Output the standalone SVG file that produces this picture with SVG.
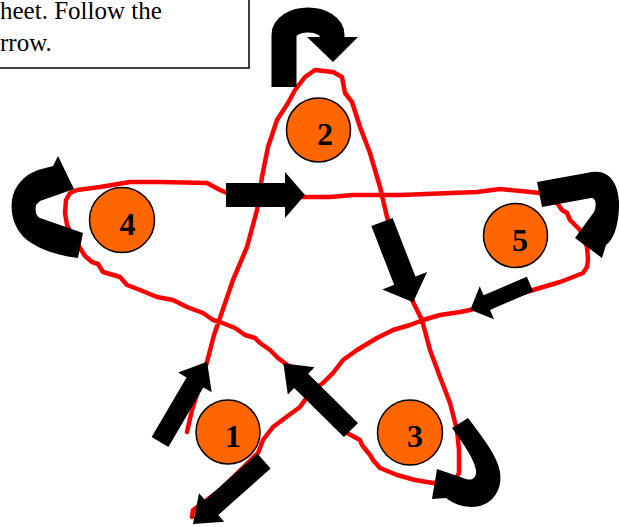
<svg xmlns="http://www.w3.org/2000/svg" width="619" height="527" viewBox="0 0 619 527">
<style>
.line{fill:none;stroke:#FF0000;stroke-width:4.5;stroke-linejoin:round;stroke-linecap:round}
.arr{fill:#000}
.band{fill:none;stroke:#000;stroke-width:25}
.node circle{fill:#FF6600;stroke:#000;stroke-width:1.5}
.node text{font-family:"Liberation Serif","Times New Roman",serif;font-weight:bold;font-size:32px;fill:#000;text-anchor:middle}
.note{font-family:"Liberation Serif","Times New Roman",serif;font-size:25px;fill:#000}
</style>
<rect width="619" height="527" fill="#fff"/>
<g id="note">
<rect x="-10" y="-10" width="259" height="78" fill="#fff" stroke="#000" stroke-width="1.5"/>
<text class="note" x="0" y="19">heet. Follow the</text>
<text class="note" x="0" y="51">rrow.</text>
</g>
<g id="connectors">
<polyline class="line" points="187,432 192,410 200,385 207,362 214,335 222,312 233,280 247,247 257,210 262,177 268,147 277,120 288,103 295,90 305,77 315,70 333,72 342,77 345,93 352,102 360,127 370,153 380,187 387,217 395,240 405,270 413,302 422,320 430,350 440,377 450,403 457,430 459,450 459,473 455,480 433,483 415,480 397,475 380,468 373,460 370,455 362,445 360,440 347,433 335,425 310,392 290,367 278,358 270,350 260,343 255,338 245,335 235,328 220,322 213,320 203,313 187,307 173,300 157,297 140,290 127,285 120,277 103,272 98,264 92,262 85,256 80,248 72,235 67,225 65,213 66,200 70,193 77,190 100,187 130,182 160,182 207,183 220,190 227,193 303,197 330,197 353,195 400,195 477,192 500,189 540,193 557,203 562,210 567,213 570,220 580,230 587,247 588,260 587,267 583,273 573,277 560,282 533,290 500,300 470,310 460,312 440,315 423,320 410,325 393,330 377,338 357,350 343,360 333,373 323,383 313,390 307,397 300,407 285,418 273,427 263,440 258,453 220,490 200,505 193,510 192,517"/>
<polygon class="arr" transform="translate(160,442) rotate(-59.6)" points="0,-9.7 69,-9.7 69,-19.5 93,0 69,19.5 69,9.7 0,9.7"/>
<polygon class="arr" transform="translate(351,430) rotate(-135.4)" points="0,-10 70,-10 70,-19 95,0 70,19 70,10 0,10"/>
<polygon class="arr" transform="translate(264,461) rotate(138.4)" points="0,-10 70,-10 70,-19 95,0 70,19 70,10 0,10"/>
<polygon class="arr" transform="translate(226,195)" points="0,-12 59,-12 59,-23 79,0 59,23 59,12 0,12"/>
<polygon class="arr" transform="translate(382,222) rotate(68.8)" points="0,-11.4 63,-11.4 63,-24 86,0 63,24 63,11.4 0,11.4"/>
<polygon class="arr" transform="translate(530,284) rotate(156.6)" points="0,-8 47,-8 47,-18 65,0 47,18 47,8 0,8"/>
<path class="band" d="M284,87 L284,35 A24,15 0 0 1 332,35 L332,38"/>
<polygon class="arr" points="307,37 358,37 333,62"/>
<path class="arr" d="M78,258 C60,256 40,250 27,240 C15,230 10,215 12,200 C14,186 24,175 38,170 L53,166 L58,156 L74,189 L40,201 L36,205 C35,212 36,216 40,218 L83,233 Z"/>
<path class="arr" d="M537,182 L592,172 C610,169 620,185 619,208 C618,228 613,240 606,245 L602,258 L575,238 L594,212 C597,205 596,198 591,198 L542,207 Z"/>
<path class="arr" d="M452,428 L468,418 C483,438 497,455 500,472 C503,492 490,507 472,507 C462,507 452,503 446,498 L432,499 L437,469 L466,479 C472,481 477,478 476,470 C474,460 466,447 452,428 Z"/>
</g>
<g id="node1" class="node"><circle cx="228" cy="432" r="32"/><text x="233" y="447">1</text></g>
<g id="node2" class="node"><circle cx="318.5" cy="130" r="32"/><text x="325" y="145">2</text></g>
<g id="node3" class="node"><circle cx="410" cy="432.5" r="32.5"/><text x="415" y="447">3</text></g>
<g id="node4" class="node"><circle cx="122" cy="220" r="32.5"/><text x="127.5" y="235">4</text></g>
<g id="node5" class="node"><circle cx="515.5" cy="235.5" r="32"/><text x="520" y="251">5</text></g>
</svg>
